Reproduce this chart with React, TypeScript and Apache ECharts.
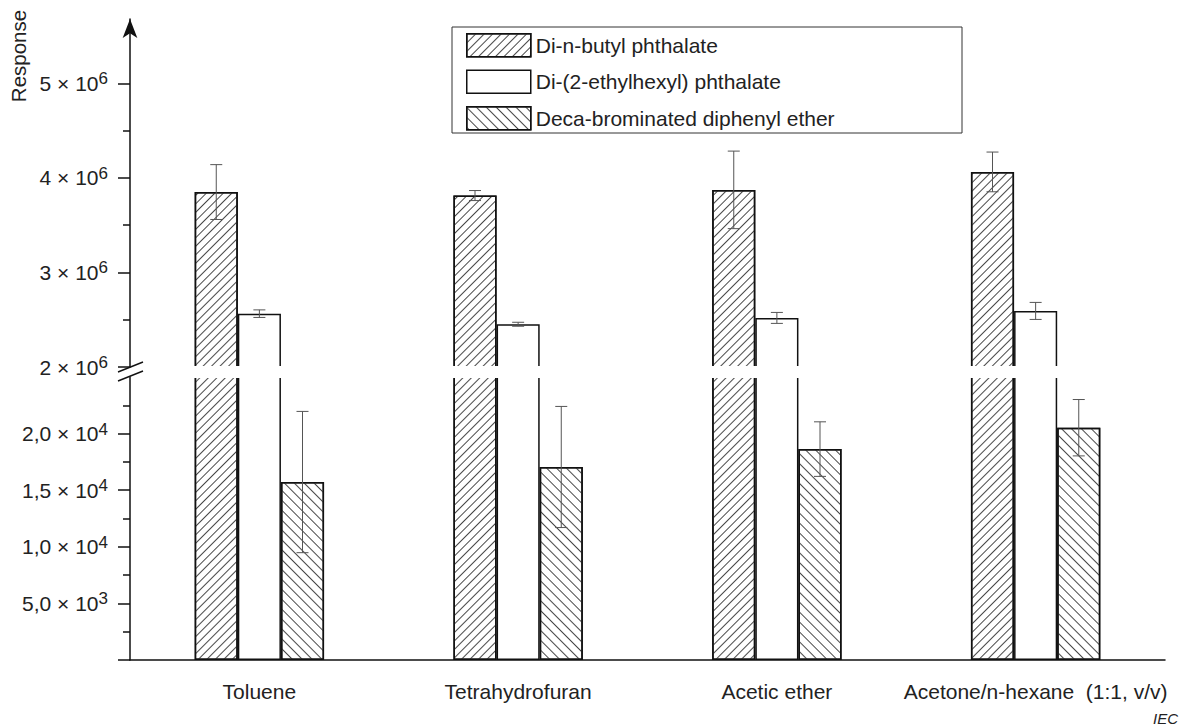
import { useEffect, useRef } from 'react';
import * as echarts from 'echarts';

// Solvent categories and compounds
const categories = ['Toluene', 'Tetrahydrofuran', 'Acetic ether', 'Acetone/n-hexane  (1:1, v/v)'];
const seriesNames = ['Di-n-butyl phthalate', 'Di-(2-ethylhexyl) phthalate', 'Deca-brominated diphenyl ether'];

// Mean responses and standard deviations per solvent
const dbpMean = [3.85e6, 3.813e6, 3.873e6, 4.063e6];
const dbpErr = [0.29e6, 0.053e6, 0.41e6, 0.21e6];
const dehpMean = [2.564e6, 2.452e6, 2.519e6, 2.593e6];
const dehpErr = [0.04e6, 0.021e6, 0.058e6, 0.09e6];
const decaMean = [15720, 17050, 18630, 20520];
const decaErr = [6240, 5350, 2410, 2490];

// Broken value axis: upper segment (millions) and lower segment (tens of thousands)
const upperRange = [2e6, 5.68e6];
const lowerRange = [0, 25000];
const upperMajorTicks = [2e6, 3e6, 4e6, 5e6];
const upperMinorTicks = [2.5e6, 3.5e6, 4.5e6];
const lowerMajorTicks = [0, 5000, 10000, 15000, 20000];
const lowerLabelTicks = [5000, 10000, 15000, 20000];
const lowerMinorTicks = [2500, 7500, 12500, 17500, 22500];

const FONT = "'Liberation Sans', Arial, Helvetica, sans-serif";
const INK = '#111';
const TEXT = '#222';
const LEFT = 130;
const WIDTH = 1035;
const UP_TOP = 19;
const UP_H = 348;
const LOW_TOP = 377;
const LOW_H = 283;
const BAR_FRACTION = 0.5;
const SLOTS = 3;

const dbpDecal = {
  symbol: 'rect',
  symbolSize: 1,
  dashArrayX: [1, 0],
  dashArrayY: [1, 4.5],
  rotation: -Math.PI / 4,
  color: '#484848',
};
const decaDecal = {
  symbol: 'rect',
  symbolSize: 1,
  dashArrayX: [1, 0],
  dashArrayY: [1, 5.3],
  rotation: Math.PI / 4,
  color: '#484848',
};

function sciLabel(v: number): string {
  if (v >= 1e6) {
    return `{m|${Math.round(v / 1e6)} × 10}{s|6}`;
  }
  const e = Math.floor(Math.log10(v));
  const mant = (v / Math.pow(10, e)).toFixed(1).replace('.', ',');
  return `{m|${mant} × 10}{s|${e}}`;
}

const labelRich = {
  m: { fontSize: 21, color: TEXT, fontFamily: FONT, lineHeight: 26 },
  s: { fontSize: 17, color: TEXT, fontFamily: FONT, lineHeight: 12, verticalAlign: 'top' },
};

const lineStyle = { color: INK, width: 1.5 };

function errorBars(means: number[], errs: number[], slot: number, xAxisIndex: number, yAxisIndex: number) {
  return {
    type: 'custom',
    xAxisIndex,
    yAxisIndex,
    z: 5,
    silent: true,
    data: means.map((m, i) => [i, m, errs[i]]),
    encode: { x: 0, y: 1 },
    renderItem: (_params: any, api: any) => {
      const i = api.value(0);
      const m = api.value(1);
      const e = api.value(2);
      const band = api.size([1, 0])[0];
      const bw = (band * BAR_FRACTION) / SLOTS;
      const x = api.coord([i, m])[0] + (slot - 1) * bw;
      const yTop = api.coord([i, m + e])[1];
      const yBot = api.coord([i, m - e])[1];
      const cap = 6;
      const style = { stroke: '#555', lineWidth: 1 };
      return {
        type: 'group',
        children: [
          { type: 'line', shape: { x1: x, y1: yTop, x2: x, y2: yBot }, style },
          { type: 'line', shape: { x1: x - cap, y1: yTop, x2: x + cap, y2: yTop }, style },
          { type: 'line', shape: { x1: x - cap, y1: yBot, x2: x + cap, y2: yBot }, style },
        ],
      };
    },
  };
}

function bar(name: string, data: number[], xAxisIndex: number, yAxisIndex: number, decal: any) {
  return {
    type: 'bar',
    name,
    xAxisIndex,
    yAxisIndex,
    data,
    clip: true,
    barGap: '0%',
    barCategoryGap: '50%',
    itemStyle: { color: '#fff', borderColor: INK, borderWidth: 1.5, decal: decal || undefined },
    emphasis: { disabled: true },
  };
}

export default function App() {
  const ref = useRef<HTMLDivElement>(null);

  useEffect(() => {
    if (!ref.current) return;
    const chart = echarts.init(ref.current, undefined, { renderer: 'svg' });

    const option: any = {
      animation: false,
      backgroundColor: '#fff',
      textStyle: { fontFamily: FONT, color: TEXT },
      grid: [
        { left: LEFT, top: UP_TOP, width: WIDTH, height: UP_H, containLabel: false, outerBoundsMode: 'none' },
        { left: LEFT, top: LOW_TOP, width: WIDTH, height: LOW_H, containLabel: false, outerBoundsMode: 'none' },
      ],
      legend: {
        data: seriesNames,
        orient: 'vertical',
        left: 466,
        top: 33,
        padding: 0,
        itemWidth: 64,
        itemHeight: 23,
        itemGap: 12,
        itemTextGap: 7,
        icon: 'rect',
        selectedMode: false,
        textStyle: { fontSize: 21, color: TEXT, fontFamily: FONT },
        itemStyle: { borderColor: INK, borderWidth: 1.5 },
      },
      xAxis: [
        { type: 'category', gridIndex: 0, data: categories, show: false },
        {
          type: 'category',
          gridIndex: 1,
          data: categories,
          position: 'bottom',
          axisLine: { lineStyle },
          axisTick: { length: 6, lineStyle },
          axisLabel: { fontSize: 21, color: TEXT, margin: 21, fontFamily: FONT, interval: 0 },
          splitLine: { show: false },
        },
        {
          type: 'category',
          gridIndex: 1,
          data: categories,
          position: 'bottom',
          axisLine: { show: false },
          axisTick: { alignWithLabel: true, length: 12, lineStyle },
          axisLabel: { show: false },
          splitLine: { show: false },
        },
      ],
      yAxis: [
        {
          type: 'value',
          gridIndex: 0,
          position: 'left',
          min: upperRange[0],
          max: upperRange[1],
          axisLine: { show: true, symbol: ['none', 'arrow'], symbolSize: [11, 19], lineStyle },
          axisTick: { show: true, customValues: upperMajorTicks, length: 12, lineStyle },
          axisLabel: { customValues: upperMajorTicks, formatter: sciLabel, rich: labelRich, margin: 22 },
          splitLine: { show: false },
        },
        {
          type: 'value',
          gridIndex: 0,
          position: 'left',
          min: upperRange[0],
          max: upperRange[1],
          axisLine: { show: false },
          axisTick: { show: true, customValues: upperMinorTicks, length: 7, lineStyle },
          axisLabel: { show: false },
          splitLine: { show: false },
        },
        {
          type: 'value',
          gridIndex: 1,
          position: 'left',
          min: lowerRange[0],
          max: lowerRange[1],
          axisLine: { show: true, lineStyle },
          axisTick: { show: true, customValues: lowerMajorTicks, length: 12, lineStyle },
          axisLabel: { customValues: lowerLabelTicks, formatter: sciLabel, rich: labelRich, margin: 22 },
          splitLine: { show: false },
        },
        {
          type: 'value',
          gridIndex: 1,
          position: 'left',
          min: lowerRange[0],
          max: lowerRange[1],
          axisLine: { show: false },
          axisTick: { show: true, customValues: lowerMinorTicks, length: 7, lineStyle },
          axisLabel: { show: false },
          splitLine: { show: false },
        },
      ],
      series: [
        bar(seriesNames[0], dbpMean, 0, 0, dbpDecal),
        bar(seriesNames[1], dehpMean, 0, 0, null),
        bar(seriesNames[2], [], 0, 0, decaDecal),
        bar(seriesNames[0], dbpMean, 1, 2, dbpDecal),
        bar(seriesNames[1], dehpMean, 1, 2, null),
        bar(seriesNames[2], decaMean, 1, 2, decaDecal),
        errorBars(dbpMean, dbpErr, 0, 0, 0),
        errorBars(dehpMean, dehpErr, 1, 0, 0),
        errorBars(decaMean, decaErr, 2, 1, 2),
      ],
      graphic: [
        // gap between the two axis segments
        {
          type: 'rect',
          z: 50,
          silent: true,
          shape: { x: LEFT + 1, y: UP_TOP + UP_H - 1, width: WIDTH + 2, height: LOW_TOP - UP_TOP - UP_H + 2 },
          style: { fill: '#fff' },
        },
        // axis break marks
        {
          type: 'line',
          z: 51,
          silent: true,
          shape: { x1: 118, y1: 372, x2: 143, y2: 362 },
          style: { stroke: INK, lineWidth: 1.5 },
        },
        {
          type: 'line',
          z: 51,
          silent: true,
          shape: { x1: 118, y1: 381, x2: 143, y2: 371 },
          style: { stroke: INK, lineWidth: 1.5 },
        },
        // legend frame
        {
          type: 'rect',
          z: 1,
          silent: true,
          shape: { x: 452, y: 27, width: 510, height: 106 },
          style: { fill: 'none', stroke: '#333', lineWidth: 1 },
        },
        {
          type: 'text',
          silent: true,
          x: 18,
          y: 56,
          rotation: Math.PI / 2,
          style: { text: 'Response', fontSize: 20.5, fontFamily: FONT, fill: TEXT, align: 'center', verticalAlign: 'middle' },
        },
        {
          type: 'text',
          silent: true,
          x: 1178,
          y: 718,
          style: { text: 'IEC', fontSize: 15, fontStyle: 'italic', fontFamily: FONT, fill: TEXT, align: 'right', verticalAlign: 'middle' },
        },
      ],
    };

    chart.setOption(option);
    return () => chart.dispose();
  }, []);

  return (
    <div
      ref={ref}
      style={{ position: 'absolute', left: 0, top: 0, width: 1186, height: 726, background: '#fff' }}
    />
  );
}
